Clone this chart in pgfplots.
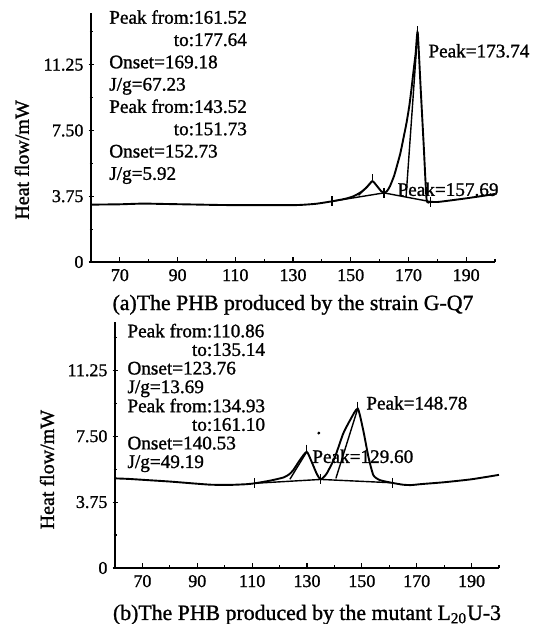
\documentclass[border=0pt]{standalone}
\usepackage{fontspec}
\setmainfont{Liberation Serif}[FakeBold=1.2]
\usepackage{pgfplots}
\pgfplotsset{compat=1.18}

\pgfplotsset{
  dsc/.style={
    scale only axis,
    anchor=south west,
    axis lines=left,
    axis line style={-, line width=0.7pt},
    xmin=60, xmax=200, ymin=0,
    xtick={70,90,...,190},
    minor xtick={80,100,...,200},
    ytick={0,3.75,7.5,11.25},
    yticklabels={0,3.75,7.50,11.25},
    minor ytick={1.875,5.625,9.375,13.125},
    xtick align=inside,
    ytick align=center,
    major tick length=2.5pt,
    minor tick length=1.5pt,
    tick style={black, line width=0.6pt},
    /pgf/number format/assume math mode=true,
    ticklabel style={font=\fontsize{9}{10}\selectfont},
    yticklabel style={xshift=1pt},
    ylabel style={anchor=center, font=\fontsize{10}{12}\selectfont},
    xlabel style={anchor=center, font=\fontsize{10.9}{12}\selectfont},
    clip=false,
  },
  curve/.style={black, line width=0.95pt, smooth, tension=0.35},
  aux/.style={black, line width=0.7pt},
}
\tikzset{note/.style={anchor=base west, inner sep=0pt, font=\fontsize{9.6}{11}\selectfont}}

\begin{document}
\begin{tikzpicture}
\useasboundingbox (0,0) rectangle (270.5pt,312pt);

% (a) strain G-Q7
\begin{axis}[dsc, at={(45.5pt,181pt)}, width=202pt, height=124.5pt, ymax=14.2,
  ylabel={Heat flow/mW},
  ylabel style={at={(axis description cs:-0.171,0.41)}},
  xlabel={(a)The PHB produced by the strain G-Q7},
  xlabel style={at={(axis description cs:0.5,-0.172)}}]
\addplot[curve] coordinates {
  (60,3.27) (65,3.28) (70,3.29) (78,3.33) (85,3.31) (95,3.28) (105,3.25)
  (115,3.24) (125,3.24) (132,3.25) (138,3.32) (143.5,3.46) (148,3.6)
  (151,3.75) (153.5,3.98) (155.5,4.25) (157.5,4.61) (159,4.35) (160.5,4.05)
  (161.6,3.94) (162.6,4.05) (163.6,4.32) (165,4.9) (166,5.47) (167.2,6.2)
  (168.2,7.0) (169.3,7.9) (170.3,8.9) (171,9.8) (171.7,10.8) (172.5,11.9)
  (173.2,13.1) (174.2,10.02) (175.3,6.63) (176.3,3.56) (177.6,3.44)
  (180,3.42) (185,3.52) (190,3.63) (195,3.75) (200,3.88)
};
\addplot[aux] coordinates {(143.52,3.46) (161.52,3.94)};
\addplot[aux] coordinates {(161.52,3.94) (177.64,3.44)};
\addplot[aux] coordinates {(152.73,3.8) (157.5,4.61)};
\addplot[aux] coordinates {(169.18,3.72) (173.2,13.1)};
\addplot[only marks, mark=|, mark size=2.5pt, mark options={line width=0.6pt}]
  coordinates {(143.52,3.46) (161.52,3.94) (177.64,3.44)};
\addplot[only marks, mark=|, mark size=1.3pt, mark options={line width=0.6pt}]
  coordinates {(157.6,4.85) (173.2,13.3)};
\node[note, font=\fontsize{9.6}{11.15}\selectfont] at (axis cs:66.2,13.59) {%
  \begin{tabular}[t]{@{}l@{}}
  Peak from:161.52\\
  \multicolumn{1}{@{}r@{}}{to:177.64}\\
  Onset=169.18\\
  J/g=67.23\\
  Peak from:143.52\\
  \multicolumn{1}{@{}r@{}}{to:151.73}\\
  Onset=152.73\\
  J/g=5.92
  \end{tabular}};
\node[note] at (axis cs:176.8,11.67) {Peak=173.74};
\node[note] at (axis cs:166.1,3.77) {Peak=157.69};
\end{axis}

% (b) mutant L20U-3
\begin{axis}[dsc, at={(57.5pt,28pt)}, width=192pt, height=123pt, ymax=14.0,
  ylabel={Heat flow/mW},
  ylabel style={at={(axis description cs:-0.177,0.40)}},
  xlabel={(b)The PHB produced by the mutant L\textsubscript{20}U-3},
  xlabel style={at={(axis description cs:0.5,-0.19)}}]
\addplot[curve] coordinates {
  (60,5.1) (65,5.07) (70,5.02) (80,4.92) (88,4.82) (95,4.74) (102,4.73)
  (108,4.77) (111,4.82) (116.5,4.97) (121.4,5.15) (123.5,5.33) (125,5.57)
  (127.4,6.14) (129.9,6.61) (131.7,6.04) (133.5,5.38) (135,5.04) (137.2,5.38)
  (140.2,6.32) (143.2,7.65) (145.7,8.41) (148.5,9.07) (150.5,7.84)
  (152.4,6.32) (154.2,5.28) (156.6,5.0) (160.9,4.85) (165,4.74) (168,4.72)
  (172,4.78) (180,4.88) (190,5.05) (200,5.3)
};
\addplot[aux] coordinates {(110.86,4.82) (135.04,5.04)};
\addplot[aux] coordinates {(135.04,5.04) (161.10,4.85)};
\addplot[aux] coordinates {(123.76,5.05) (129.9,6.61)};
\addplot[aux] coordinates {(140.53,5.1) (148.5,9.07)};
\addplot[only marks, mark=|, mark size=2.5pt, mark options={line width=0.6pt}]
  coordinates {(110.86,4.82) (135.04,5.04) (161.10,4.85)};
\addplot[only marks, mark=|, mark size=1.5pt, mark options={line width=0.6pt}]
  coordinates {(129.9,6.85) (148.5,9.3)};
\addplot[only marks, mark=*, mark size=0.5pt] coordinates {(134.3,7.68)};
\node[note, font=\fontsize{9.6}{9.3}\selectfont] at (axis cs:64.4,13.13) {%
  \begin{tabular}[t]{@{}l@{}}
  Peak from:110.86\\
  \multicolumn{1}{@{}r@{}}{to:135.14}\\
  Onset=123.76\\
  J/g=13.69\\
  Peak from:134.93\\
  \multicolumn{1}{@{}r@{}}{to:161.10}\\
  Onset=140.53\\
  J/g=49.19
  \end{tabular}};
\node[note] at (axis cs:151.5,9.02) {Peak=148.78};
\node[note] at (axis cs:131.8,5.98) {Peak=129.60};
\end{axis}
\end{tikzpicture}
\end{document}
